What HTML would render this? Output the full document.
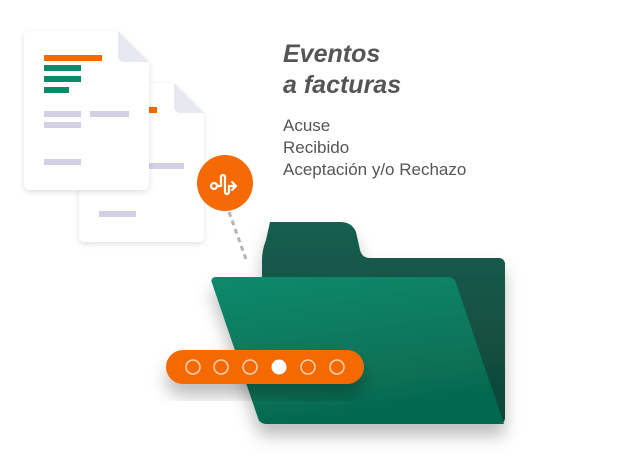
<!DOCTYPE html>
<html><head><style>
body{margin:0;width:640px;height:460px;background:#fff;overflow:hidden;font-family:"Liberation Sans",sans-serif}
</style></head><body>
<svg width="640" height="460" viewBox="0 0 640 460" xmlns="http://www.w3.org/2000/svg">
<defs>
<filter id="sh" x="-30%" y="-30%" width="160%" height="160%"><feDropShadow dx="0" dy="2" stdDeviation="3" flood-color="#000" flood-opacity="0.12"/></filter>
<filter id="sh2" x="-30%" y="-30%" width="160%" height="180%"><feDropShadow dx="0" dy="12" stdDeviation="8" flood-color="#000" flood-opacity="0.25"/></filter>
<linearGradient id="fr" x1="0" y1="0" x2="0.3" y2="1"><stop offset="0" stop-color="#0b8a6c"/><stop offset="1" stop-color="#06694f"/></linearGradient>
<linearGradient id="bk" x1="0" y1="0" x2="0" y2="1"><stop offset="0" stop-color="#175e4f"/><stop offset="1" stop-color="#0f4536"/></linearGradient>
</defs>
<g filter="url(#sh)">
<path d="M85 83 H174 L204 113 V236 a6 6 0 0 1 -6 6 H85 a6 6 0 0 1 -6 -6 V89 a6 6 0 0 1 6 -6Z" fill="#fff"/>
</g>
<path d="M174 83 L204 113 H180 a6 6 0 0 1 -6 -6Z" fill="#e8e8f2"/>
<rect x="148" y="107" width="9" height="6" fill="#f26a06"/>
<rect x="148" y="163" width="36" height="6" fill="#d3d0e6"/>
<rect x="99" y="211" width="37" height="6" fill="#d3d0e6"/>
<g filter="url(#sh)">
<path d="M30 31 H118 L149 62 V184 a6 6 0 0 1 -6 6 H30 a6 6 0 0 1 -6 -6 V37 a6 6 0 0 1 6 -6Z" fill="#fff"/>
</g>
<path d="M118 31 L149 62 H124 a6 6 0 0 1 -6 -6Z" fill="#e8e8f2"/>
<rect x="44" y="55" width="58" height="6" fill="#f26a06"/>
<rect x="44" y="65" width="37" height="6" fill="#0c8a6a"/>
<rect x="44" y="76" width="37" height="6" fill="#0c8a6a"/>
<rect x="44" y="87" width="25" height="6" fill="#0c8a6a"/>
<rect x="44" y="111" width="37" height="6" fill="#d3d0e6"/>
<rect x="90" y="111" width="39" height="6" fill="#d3d0e6"/>
<rect x="44" y="122" width="37" height="6" fill="#d3d0e6"/>
<rect x="44" y="159" width="37" height="6" fill="#d3d0e6"/>
<line x1="229" y1="212" x2="247" y2="262" stroke="#b5b5b5" stroke-width="3" stroke-dasharray="5 4"/>
<circle cx="225" cy="183" r="28" fill="#f56a05"/>
<g fill="none" stroke="#fff" stroke-width="2.2" stroke-linecap="round" stroke-linejoin="round">
<circle cx="214" cy="186" r="3"/>
<path d="M217 186 H221 V177 a2 2 0 0 1 4 0 V192 a2 2 0 0 0 4 0 V186 H236"/>
<path d="M232 182 L236 186 L232 190"/>
</g>
<g filter="url(#sh2)">
<path d="M270 222 H340 Q352 222 356 232 L360 250 Q362 258 370 258 H499 a6 6 0 0 1 6 6 V418 a6 6 0 0 1 -6 6 H270 a8 8 0 0 1 -8 -8 V260 Q262 250 266 240Z" fill="url(#bk)"/>
<path d="M216 277 H448 a8 8 0 0 1 8 6 L504 424 H266 a8 8 0 0 1 -8 -6 L212 283 a4 4 0 0 1 4 -6Z" fill="url(#fr)"/>
</g>
<g filter="url(#sh2)">
<rect x="166" y="350" width="198" height="34" rx="17" fill="#f56a05"/>
</g>
<g fill="none" stroke="#fdd0b0" stroke-width="1.5">
<circle cx="193" cy="367" r="7"/><circle cx="221" cy="367" r="7"/><circle cx="250" cy="367" r="7"/>
<circle cx="308" cy="367" r="7"/><circle cx="337" cy="367" r="7"/>
</g>
<circle cx="279" cy="367" r="7.5" fill="#fff"/>
<text x="283" y="62" font-size="25" font-weight="bold" font-style="italic" fill="#555" font-family="Liberation Sans, sans-serif">Eventos</text>
<text x="283" y="93" font-size="25" font-weight="bold" font-style="italic" fill="#555" font-family="Liberation Sans, sans-serif">a facturas</text>
<text x="283" y="131" font-size="17" fill="#555" font-family="Liberation Sans, sans-serif">Acuse</text>
<text x="283" y="153" font-size="17" fill="#555" font-family="Liberation Sans, sans-serif">Recibido</text>
<text x="283" y="175" font-size="17" fill="#555" font-family="Liberation Sans, sans-serif">Aceptación y/o Rechazo</text>
</svg>
</body></html>
